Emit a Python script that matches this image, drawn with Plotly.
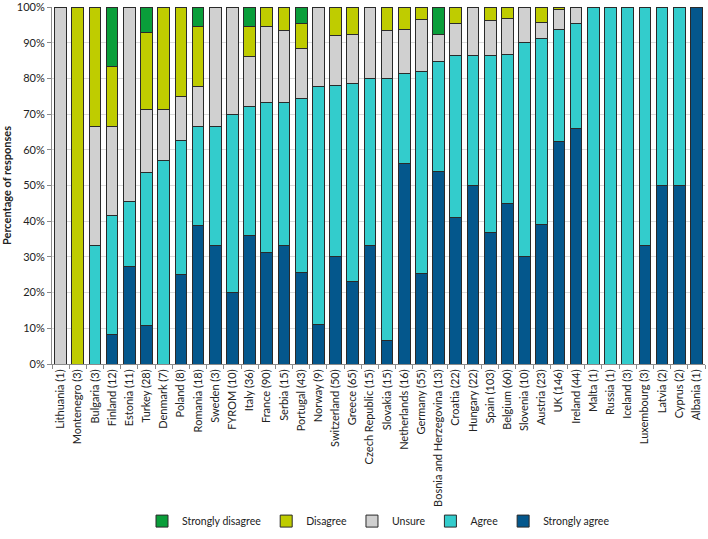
import plotly.graph_objects as go

# Laender mit Stichprobengroesse (n) in der Reihenfolge der Grafik
countries = ["Lithuania (1)", "Montenegro (3)", "Bulgaria (3)", "Finland (12)", "Estonia (11)",
             "Turkey (28)", "Denmark (7)", "Poland (8)", "Romania (18)", "Sweden (3)",
             "FYROM (10)", "Italy (36)", "France (90)", "Serbia (15)", "Portugal (43)",
             "Norway (9)", "Switzerland (50)", "Greece (65)", "Czech Republic (15)", "Slovakia (15)",
             "Netherlands (16)", "Germany (55)", "Bosnia and Herzegovina (13)", "Croatia (22)",
             "Hungary (22)", "Spain (103)", "Belgium (60)", "Slovenia (10)", "Austria (23)",
             "UK (146)", "Ireland (44)", "Malta (1)", "Russia (1)", "Iceland (3)",
             "Luxembourg (3)", "Latvia (2)", "Cyprus (2)", "Albania (1)"]

# Anzahl der Antworten je Kategorie
strongly_agree = [0, 0, 0, 1, 3, 3, 0, 2, 7, 1, 2, 13, 28, 5, 11, 1, 15, 15, 5, 1,
                  9, 14, 7, 9, 11, 38, 27, 3, 9, 91, 29, 0, 0, 0, 1, 1, 1, 1]
agree = [0, 0, 1, 4, 2, 12, 4, 3, 5, 1, 5, 13, 38, 6, 21, 6, 24, 36, 7, 11,
         4, 31, 4, 10, 8, 51, 25, 6, 12, 46, 13, 1, 1, 3, 2, 1, 1, 0]
unsure = [1, 0, 1, 3, 6, 5, 1, 1, 2, 1, 3, 5, 19, 3, 6, 2, 7, 9, 3, 2,
          2, 8, 1, 2, 3, 10, 6, 1, 1, 8, 2, 0, 0, 0, 0, 0, 0, 0]
disagree = [0, 3, 1, 2, 0, 6, 2, 2, 3, 0, 0, 3, 5, 1, 3, 0, 4, 5, 0, 1,
            1, 2, 0, 1, 0, 4, 2, 0, 1, 1, 0, 0, 0, 0, 0, 0, 0, 0]
strongly_disagree = [0, 0, 0, 2, 0, 2, 0, 0, 1, 0, 0, 2, 0, 0, 2, 0, 0, 0, 0, 0,
                     0, 0, 1, 0, 0, 0, 0, 0, 0, 0, 0, 0, 0, 0, 0, 0, 0, 0]

series = [
    ("Strongly agree", strongly_agree, "#04578C"),
    ("Agree", agree, "#33CCCC"),
    ("Unsure", unsure, "#D0D0D0"),
    ("Disagree", disagree, "#BFCC00"),
    ("Strongly disagree", strongly_disagree, "#0A9E3A"),
]

fig = go.Figure()
for name, values, color in series:
    fig.add_trace(go.Bar(
        x=countries, y=values, name=name,
        marker=dict(color=color, line=dict(color="#2a2a2a", width=1)),
    ))

fig.update_layout(
    barmode="stack",
    barnorm="percent",  # Anteile in Prozent je Land
    bargap=0.32,
    width=708, height=539,
    margin=dict(l=52, r=3, t=7, b=169),
    plot_bgcolor="white",
    paper_bgcolor="white",
    font=dict(family="Lato, Liberation Sans, sans-serif", size=11, color="#222"),
    legend=dict(orientation="h", traceorder="reversed", x=0.5, xanchor="center",
                y=-0.44, yanchor="middle", font=dict(size=10.5), itemwidth=30),
)
fig.update_yaxes(
    range=[0, 100], dtick=10, ticksuffix="%", ticklabeloverflow="allow",
    showgrid=True, gridcolor="#DCDCDC", gridwidth=1,
    showline=True, linecolor="#8c8c8c", ticks="outside", ticklen=4, tickcolor="#8c8c8c",
    title=dict(text="<b>Percentage of responses</b>", font=dict(size=11), standoff=3),
    tickfont=dict(size=11), automargin=False,
)
fig.update_xaxes(
    tickangle=-90, showline=True, linecolor="#8c8c8c",
    ticks="outside", tickson="boundaries", ticklen=4, tickcolor="#8c8c8c",
    tickfont=dict(size=11), automargin=False,
)

fig.write_html("out.html", config={"displayModeBar": False},
               post_script="document.body.style.margin='0';")
